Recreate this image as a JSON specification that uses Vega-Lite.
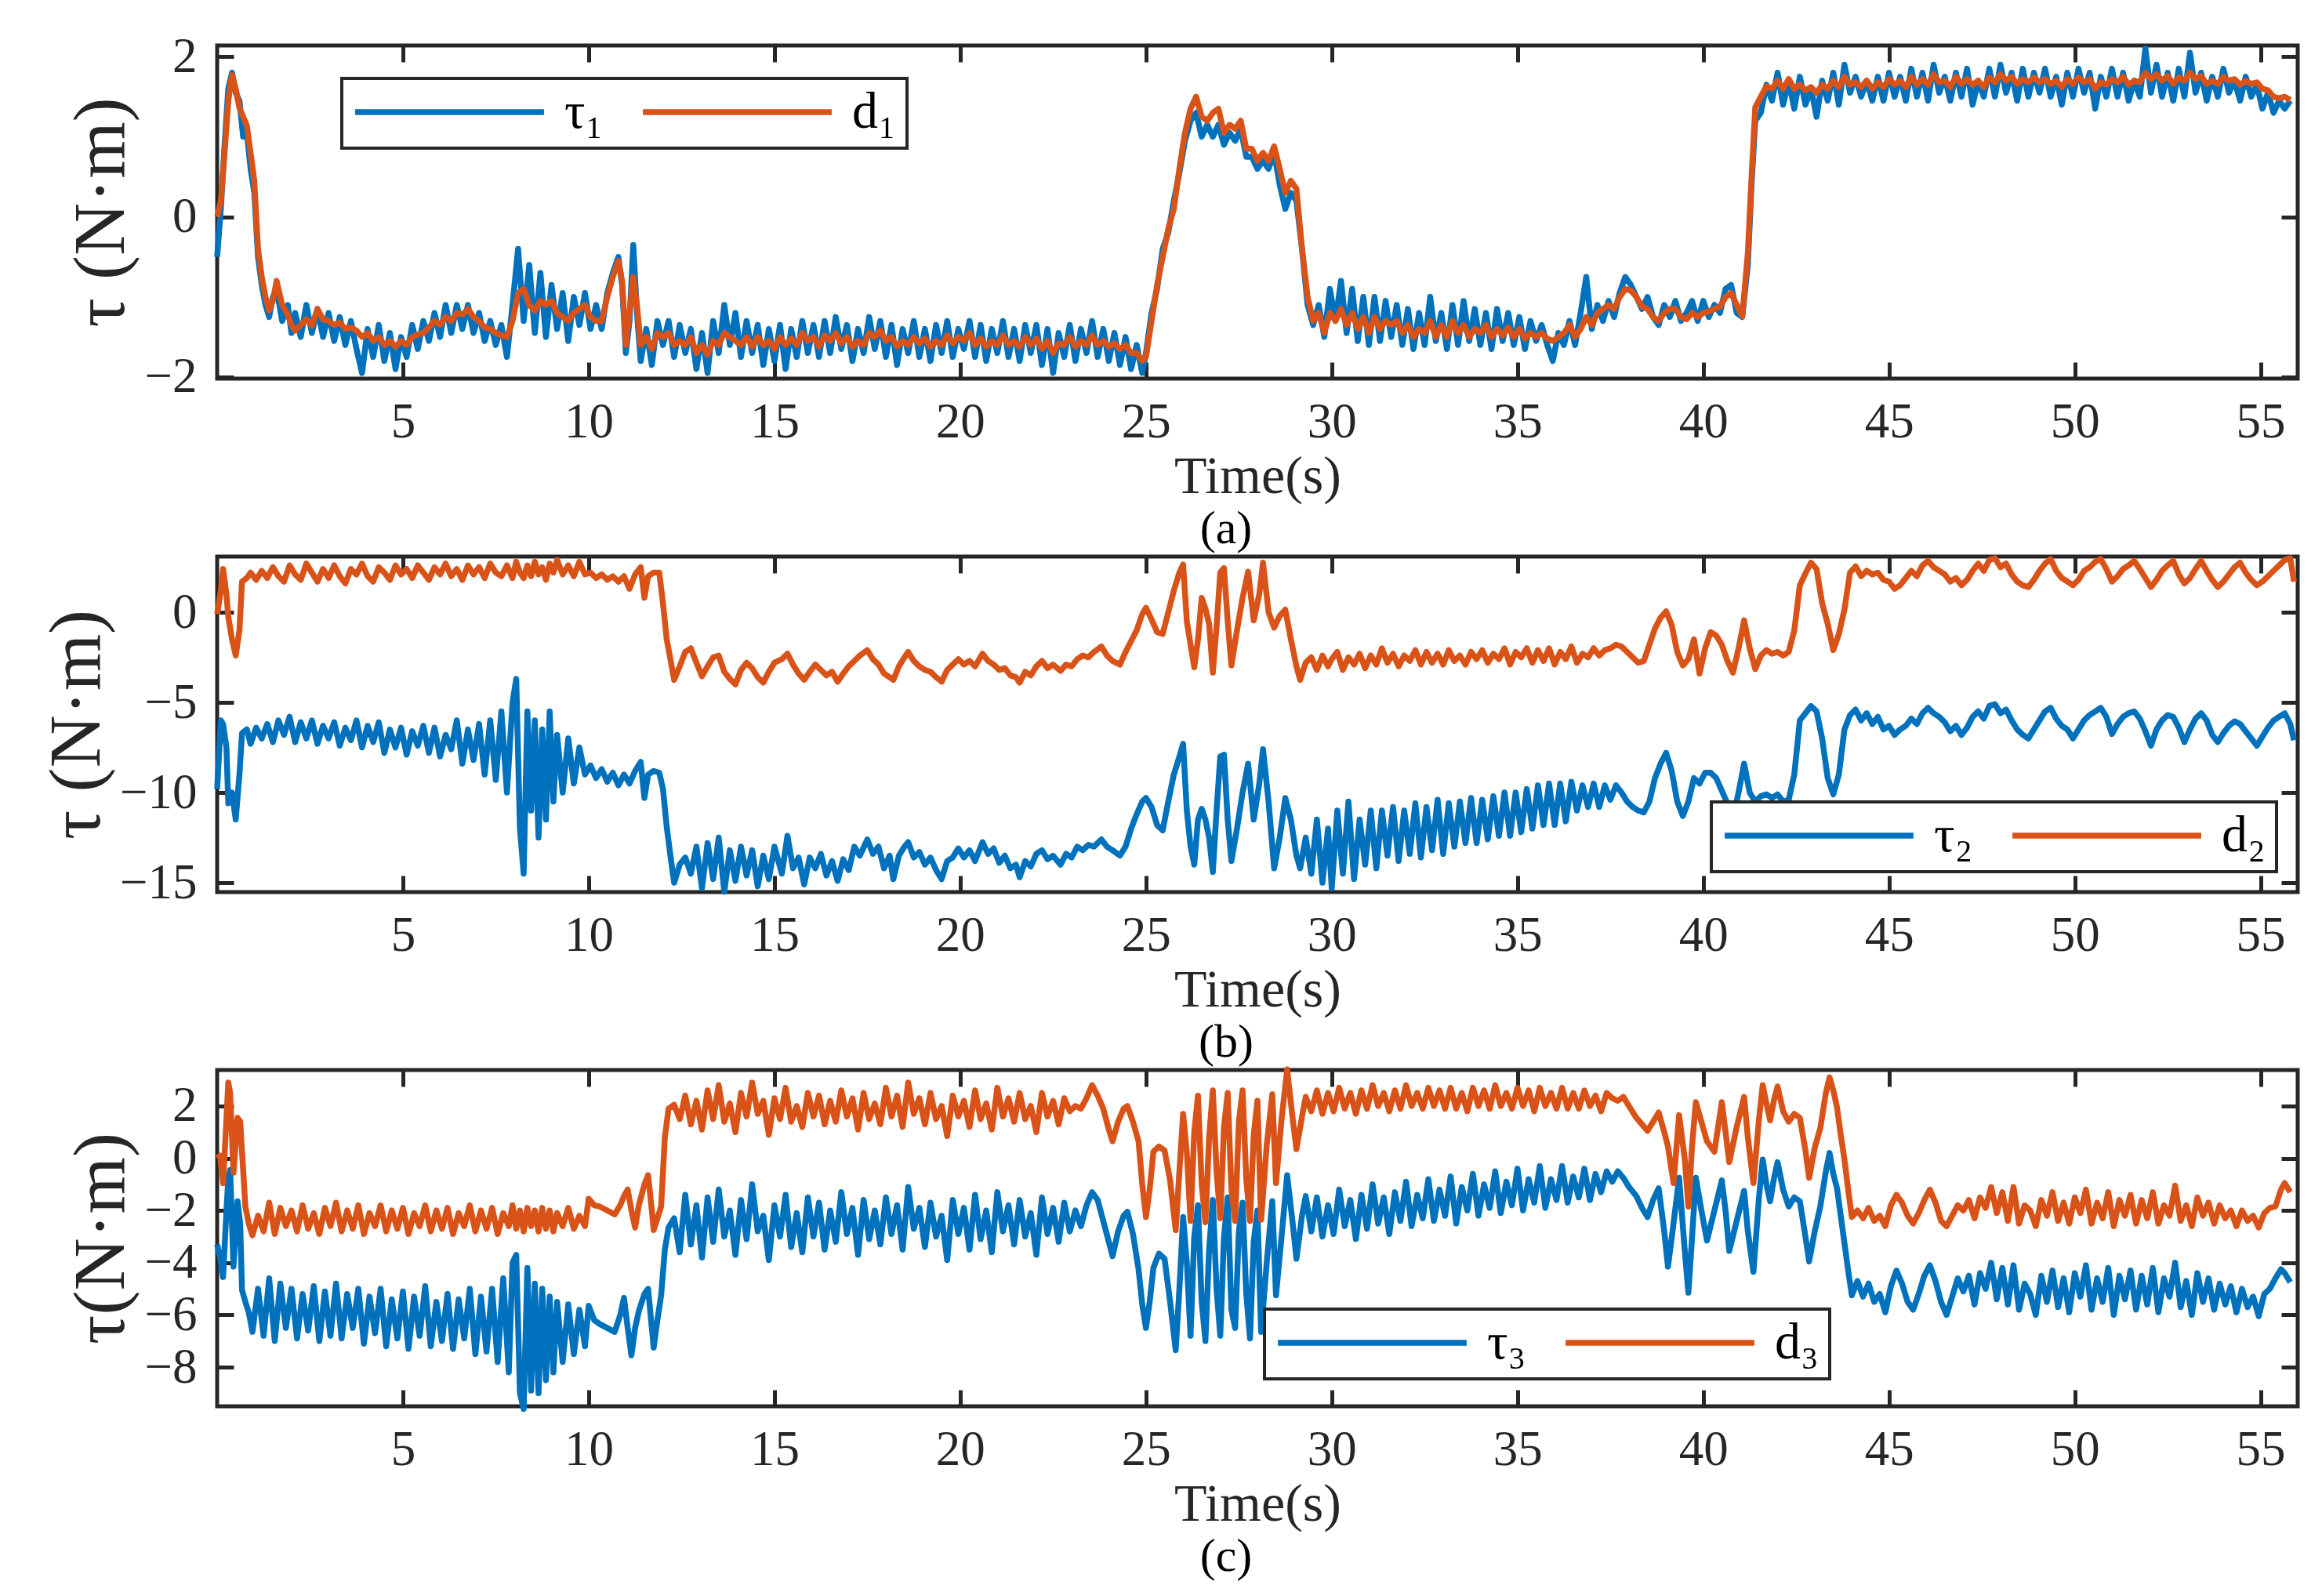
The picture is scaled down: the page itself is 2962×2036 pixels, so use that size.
{
  "$schema": "https://vega.github.io/schema/vega-lite/v6.json",
  "background": "white",
  "padding": {"left": 49, "top": 38, "right": 20, "bottom": 20},
  "bounds": "flush",
  "spacing": 227,
  "config": {
    "font": "Liberation Serif",
    "view": {"stroke": "#262626", "strokeWidth": 5},
    "axis": {
      "domain": false, "grid": false,
      "tickColor": "#262626", "tickWidth": 5, "tickSize": -21,
      "labelFont": "Liberation Serif", "labelFontSize": 63, "labelColor": "#262626",
      "labelFlush": false, "labelOverlap": false, "labelBound": false,
      "titleFont": "Liberation Serif", "titleColor": "#262626", "titleFontWeight": "normal"
    },
    "axisX": {"labelPadding": 45, "titleFontSize": 68, "titlePadding": 4},
    "axisY": {"labelPadding": 47, "titleFontSize": 93, "titlePadding": 6},
    "legend": {
      "orient": "none", "direction": "horizontal", "title": null,
      "symbolType": "stroke", "symbolSize": 58000, "symbolStrokeWidth": 7,
      "clipHeight": 60, "labelFont": "Liberation Serif, DejaVu Serif", "labelFontSize": 66,
      "labelColor": "#000000", "labelOffset": 22, "columnPadding": 46, "padding": 13,
      "strokeColor": "#262626", "strokeWidth": 4, "fillColor": "white"
    },
    "title": {"orient": "bottom", "anchor": "middle", "font": "Liberation Serif", "fontSize": 60, "fontWeight": "normal", "color": "#000000", "offset": 4, "dx": -40},
    "line": {"strokeWidth": 7.5, "strokeJoin": "round"}
  },
  "resolve": {"scale": {"color": "independent"}, "legend": {"color": "independent"}},
  "datasets": {
    "a": [
      {"t":0,"tau":-0.5,"d":0},{"t":0.1,"tau":0.1,"d":0.2},{"t":0.2,"tau":0.9,"d":0.8},{"t":0.3,"tau":1.6,"d":1.45},{"t":0.4,"tau":1.8,"d":1.77},
      {"t":0.5,"tau":1.55,"d":1.6},{"t":0.6,"tau":1.45,"d":1.36},{"t":0.7,"tau":1.0,"d":1.25},{"t":0.8,"tau":1.05,"d":1.14},{"t":0.9,"tau":0.6,"d":0.8},
      {"t":1.0,"tau":0.3,"d":0.45},{"t":1.1,"tau":-0.5,"d":-0.4},{"t":1.2,"tau":-0.85,"d":-0.75},{"t":1.3,"tau":-1.1,"d":-1.0},{"t":1.4,"tau":-1.25,"d":-1.17},
      {"t":1.5,"tau":-1.0,"d":-1.05},{"t":1.6,"tau":-0.9,"d":-0.8},{"t":1.75,"tau":-1.3,"d":-1.1},{"t":1.9,"tau":-1.1,"d":-1.22},{"t":2.0,"tau":-1.45,"d":-1.35},
      {"t":2.1,"tau":-1.2,"d":-1.42},{"t":2.25,"tau":-1.5,"d":-1.35},{"t":2.4,"tau":-1.1,"d":-1.28},{"t":2.55,"tau":-1.45,"d":-1.36},{"t":2.7,"tau":-1.15,"d":-1.15},
      {"t":2.85,"tau":-1.5,"d":-1.28},{"t":3.0,"tau":-1.2,"d":-1.3},{"t":3.15,"tau":-1.55,"d":-1.35},{"t":3.3,"tau":-1.25,"d":-1.32},{"t":3.45,"tau":-1.6,"d":-1.4},
      {"t":3.6,"tau":-1.3,"d":-1.38},{"t":3.75,"tau":-1.65,"d":-1.42},{"t":3.9,"tau":-1.95,"d":-1.5},{"t":4.05,"tau":-1.4,"d":-1.45},{"t":4.2,"tau":-1.75,"d":-1.55},
      {"t":4.35,"tau":-1.35,"d":-1.5},{"t":4.5,"tau":-1.8,"d":-1.6},{"t":4.65,"tau":-1.45,"d":-1.55},{"t":4.8,"tau":-1.9,"d":-1.62},{"t":4.95,"tau":-1.5,"d":-1.55},
      {"t":5.1,"tau":-1.75,"d":-1.6},{"t":5.25,"tau":-1.35,"d":-1.5},{"t":5.4,"tau":-1.65,"d":-1.47},{"t":5.55,"tau":-1.3,"d":-1.45},{"t":5.7,"tau":-1.55,"d":-1.38},
      {"t":5.85,"tau":-1.2,"d":-1.3},{"t":6.0,"tau":-1.5,"d":-1.35},{"t":6.15,"tau":-1.1,"d":-1.25},{"t":6.3,"tau":-1.45,"d":-1.3},{"t":6.45,"tau":-1.1,"d":-1.2},
      {"t":6.6,"tau":-1.4,"d":-1.22},{"t":6.75,"tau":-1.1,"d":-1.15},{"t":6.9,"tau":-1.45,"d":-1.25},{"t":7.05,"tau":-1.2,"d":-1.3},{"t":7.2,"tau":-1.55,"d":-1.38},
      {"t":7.35,"tau":-1.3,"d":-1.4},{"t":7.5,"tau":-1.6,"d":-1.45},{"t":7.65,"tau":-1.35,"d":-1.48},{"t":7.8,"tau":-1.75,"d":-1.5},{"t":7.95,"tau":-1.1,"d":-1.3},
      {"t":8.1,"tau":-0.4,"d":-0.95},{"t":8.25,"tau":-1.3,"d":-0.9},{"t":8.4,"tau":-0.6,"d":-1.1},{"t":8.55,"tau":-1.45,"d":-1.17},{"t":8.7,"tau":-0.7,"d":-1.05},
      {"t":8.85,"tau":-1.5,"d":-1.1},{"t":9.0,"tau":-0.85,"d":-1.05},{"t":9.15,"tau":-1.4,"d":-1.2},{"t":9.3,"tau":-0.95,"d":-1.25},{"t":9.45,"tau":-1.55,"d":-1.3},
      {"t":9.6,"tau":-1.0,"d":-1.2},{"t":9.75,"tau":-1.35,"d":-1.15},{"t":9.9,"tau":-0.95,"d":-1.1},{"t":10.05,"tau":-1.4,"d":-1.25},{"t":10.2,"tau":-1.1,"d":-1.3},
      {"t":10.35,"tau":-1.4,"d":-1.3},{"t":10.5,"tau":-0.95,"d":-1.0},{"t":10.65,"tau":-0.7,"d":-0.75},{"t":10.8,"tau":-0.5,"d":-0.55},{"t":10.9,"tau":-0.85,"d":-0.8},
      {"t":11.0,"tau":-1.7,"d":-1.6},{"t":11.1,"tau":-1.3,"d":-1.2},{"t":11.2,"tau":-0.35,"d":-0.75},{"t":11.3,"tau":-1.2,"d":-1.1},{"t":11.4,"tau":-1.8,"d":-1.6},
      {"t":11.55,"tau":-1.4,"d":-1.5},{"t":11.7,"tau":-1.85,"d":-1.65},{"t":11.85,"tau":-1.3,"d":-1.45},{"t":12.0,"tau":-1.6,"d":-1.5},{"t":12.15,"tau":-1.3,"d":-1.45},
      {"t":12.3,"tau":-1.75,"d":-1.6},{"t":12.45,"tau":-1.35,"d":-1.55},{"t":12.6,"tau":-1.7,"d":-1.6},{"t":12.75,"tau":-1.4,"d":-1.5},{"t":12.9,"tau":-1.9,"d":-1.7},
      {"t":13.05,"tau":-1.45,"d":-1.6},{"t":13.2,"tau":-1.95,"d":-1.72},{"t":13.35,"tau":-1.3,"d":-1.55},{"t":13.5,"tau":-1.7,"d":-1.6},{"t":13.65,"tau":-1.1,"d":-1.45},
      {"t":13.8,"tau":-1.6,"d":-1.5},{"t":13.95,"tau":-1.2,"d":-1.55},{"t":14.1,"tau":-1.75,"d":-1.6},{"t":14.25,"tau":-1.3,"d":-1.5},{"t":14.4,"tau":-1.7,"d":-1.62},
      {"t":14.55,"tau":-1.35,"d":-1.5},{"t":14.7,"tau":-1.85,"d":-1.6},{"t":14.85,"tau":-1.4,"d":-1.55},{"t":15.0,"tau":-1.8,"d":-1.65},{"t":15.15,"tau":-1.35,"d":-1.5},
      {"t":15.3,"tau":-1.9,"d":-1.6},{"t":15.45,"tau":-1.4,"d":-1.52},{"t":15.6,"tau":-1.75,"d":-1.6},{"t":15.75,"tau":-1.3,"d":-1.45},{"t":15.9,"tau":-1.7,"d":-1.55},
      {"t":16.05,"tau":-1.35,"d":-1.5},{"t":16.2,"tau":-1.75,"d":-1.62},{"t":16.35,"tau":-1.3,"d":-1.48},{"t":16.5,"tau":-1.7,"d":-1.55},{"t":16.65,"tau":-1.25,"d":-1.45},
      {"t":16.8,"tau":-1.65,"d":-1.58},{"t":16.95,"tau":-1.35,"d":-1.5},{"t":17.1,"tau":-1.8,"d":-1.62},{"t":17.25,"tau":-1.4,"d":-1.55},{"t":17.4,"tau":-1.7,"d":-1.6},
      {"t":17.55,"tau":-1.25,"d":-1.45},{"t":17.7,"tau":-1.65,"d":-1.5},{"t":17.85,"tau":-1.3,"d":-1.42},{"t":18.0,"tau":-1.75,"d":-1.55},{"t":18.15,"tau":-1.35,"d":-1.5},
      {"t":18.3,"tau":-1.85,"d":-1.62},{"t":18.45,"tau":-1.4,"d":-1.55},{"t":18.6,"tau":-1.7,"d":-1.6},{"t":18.75,"tau":-1.3,"d":-1.5},{"t":18.9,"tau":-1.75,"d":-1.58},
      {"t":19.05,"tau":-1.4,"d":-1.52},{"t":19.2,"tau":-1.8,"d":-1.62},{"t":19.35,"tau":-1.35,"d":-1.55},{"t":19.5,"tau":-1.7,"d":-1.6},{"t":19.65,"tau":-1.3,"d":-1.48},
      {"t":19.8,"tau":-1.75,"d":-1.58},{"t":19.95,"tau":-1.4,"d":-1.5},{"t":20.1,"tau":-1.65,"d":-1.55},{"t":20.25,"tau":-1.3,"d":-1.45},{"t":20.4,"tau":-1.75,"d":-1.6},
      {"t":20.55,"tau":-1.35,"d":-1.52},{"t":20.7,"tau":-1.8,"d":-1.62},{"t":20.85,"tau":-1.4,"d":-1.55},{"t":21.0,"tau":-1.7,"d":-1.6},{"t":21.15,"tau":-1.3,"d":-1.48},
      {"t":21.3,"tau":-1.75,"d":-1.6},{"t":21.45,"tau":-1.4,"d":-1.55},{"t":21.6,"tau":-1.8,"d":-1.62},{"t":21.75,"tau":-1.35,"d":-1.5},{"t":21.9,"tau":-1.7,"d":-1.6},
      {"t":22.05,"tau":-1.35,"d":-1.52},{"t":22.2,"tau":-1.85,"d":-1.65},{"t":22.35,"tau":-1.4,"d":-1.55},{"t":22.5,"tau":-1.95,"d":-1.7},{"t":22.65,"tau":-1.45,"d":-1.58},
      {"t":22.8,"tau":-1.75,"d":-1.6},{"t":22.95,"tau":-1.35,"d":-1.5},{"t":23.1,"tau":-1.8,"d":-1.62},{"t":23.25,"tau":-1.4,"d":-1.55},{"t":23.4,"tau":-1.7,"d":-1.6},
      {"t":23.55,"tau":-1.3,"d":-1.48},{"t":23.7,"tau":-1.75,"d":-1.6},{"t":23.85,"tau":-1.4,"d":-1.55},{"t":24.0,"tau":-1.8,"d":-1.62},{"t":24.15,"tau":-1.45,"d":-1.58},
      {"t":24.3,"tau":-1.85,"d":-1.65},{"t":24.45,"tau":-1.5,"d":-1.6},{"t":24.6,"tau":-1.9,"d":-1.7},{"t":24.75,"tau":-1.6,"d":-1.7},{"t":24.9,"tau":-1.95,"d":-1.8},
      {"t":25.0,"tau":-1.7,"d":-1.75},{"t":25.15,"tau":-1.2,"d":-1.3},{"t":25.3,"tau":-0.9,"d":-0.85},{"t":25.45,"tau":-0.4,"d":-0.5},{"t":25.6,"tau":-0.2,"d":-0.15},
      {"t":25.75,"tau":0.2,"d":0.1},{"t":25.9,"tau":0.55,"d":0.6},{"t":26.05,"tau":0.95,"d":1.05},{"t":26.2,"tau":1.2,"d":1.35},{"t":26.35,"tau":1.3,"d":1.5},
      {"t":26.5,"tau":1.0,"d":1.25},{"t":26.65,"tau":1.15,"d":1.2},{"t":26.8,"tau":1.0,"d":1.3},{"t":26.95,"tau":1.15,"d":1.35},{"t":27.1,"tau":0.9,"d":1.05},
      {"t":27.25,"tau":1.05,"d":1.15},{"t":27.4,"tau":0.95,"d":1.1},{"t":27.55,"tau":1.1,"d":1.2},{"t":27.7,"tau":0.75,"d":0.85},{"t":27.85,"tau":0.75,"d":0.85},
      {"t":28.0,"tau":0.6,"d":0.7},{"t":28.15,"tau":0.7,"d":0.8},{"t":28.3,"tau":0.6,"d":0.7},{"t":28.45,"tau":0.8,"d":0.88},{"t":28.6,"tau":0.4,"d":0.6},
      {"t":28.75,"tau":0.1,"d":0.3},{"t":28.9,"tau":0.3,"d":0.45},{"t":29.05,"tau":0.2,"d":0.35},{"t":29.2,"tau":-0.4,"d":-0.4},{"t":29.35,"tau":-1.1,"d":-1.0},
      {"t":29.5,"tau":-1.35,"d":-1.3},{"t":29.65,"tau":-1.1,"d":-1.2},{"t":29.8,"tau":-1.5,"d":-1.45},{"t":29.95,"tau":-0.9,"d":-1.2},{"t":30.1,"tau":-1.3,"d":-1.3},
      {"t":30.25,"tau":-0.8,"d":-1.15},{"t":30.4,"tau":-1.45,"d":-1.35},{"t":30.55,"tau":-0.9,"d":-1.2},{"t":30.7,"tau":-1.55,"d":-1.4},{"t":30.85,"tau":-1.0,"d":-1.25},
      {"t":31.0,"tau":-1.6,"d":-1.45},{"t":31.15,"tau":-1.0,"d":-1.25},{"t":31.3,"tau":-1.55,"d":-1.4},{"t":31.45,"tau":-1.05,"d":-1.3},{"t":31.6,"tau":-1.5,"d":-1.35},
      {"t":31.75,"tau":-1.1,"d":-1.3},{"t":31.9,"tau":-1.6,"d":-1.45},{"t":32.05,"tau":-1.15,"d":-1.35},{"t":32.2,"tau":-1.65,"d":-1.5},{"t":32.35,"tau":-1.2,"d":-1.4},
      {"t":32.5,"tau":-1.6,"d":-1.45},{"t":32.65,"tau":-1.0,"d":-1.3},{"t":32.8,"tau":-1.55,"d":-1.5},{"t":32.95,"tau":-1.2,"d":-1.35},{"t":33.1,"tau":-1.65,"d":-1.5},
      {"t":33.25,"tau":-1.1,"d":-1.3},{"t":33.4,"tau":-1.6,"d":-1.45},{"t":33.55,"tau":-1.05,"d":-1.35},{"t":33.7,"tau":-1.55,"d":-1.5},{"t":33.85,"tau":-1.15,"d":-1.4},
      {"t":34.0,"tau":-1.6,"d":-1.45},{"t":34.15,"tau":-1.2,"d":-1.35},{"t":34.3,"tau":-1.65,"d":-1.5},{"t":34.45,"tau":-1.15,"d":-1.4},{"t":34.6,"tau":-1.55,"d":-1.48},
      {"t":34.75,"tau":-1.2,"d":-1.38},{"t":34.9,"tau":-1.6,"d":-1.5},{"t":35.05,"tau":-1.25,"d":-1.4},{"t":35.2,"tau":-1.65,"d":-1.52},{"t":35.35,"tau":-1.3,"d":-1.45},
      {"t":35.5,"tau":-1.55,"d":-1.5},{"t":35.65,"tau":-1.35,"d":-1.45},{"t":35.8,"tau":-1.6,"d":-1.52},{"t":35.95,"tau":-1.8,"d":-1.55},{"t":36.1,"tau":-1.45,"d":-1.5},
      {"t":36.25,"tau":-1.6,"d":-1.45},{"t":36.4,"tau":-1.3,"d":-1.35},{"t":36.55,"tau":-1.6,"d":-1.5},{"t":36.7,"tau":-1.2,"d":-1.4},{"t":36.85,"tau":-0.75,"d":-1.25},
      {"t":37.0,"tau":-1.4,"d":-1.35},{"t":37.15,"tau":-1.1,"d":-1.2},{"t":37.3,"tau":-1.3,"d":-1.15},{"t":37.45,"tau":-1.05,"d":-1.1},{"t":37.6,"tau":-1.25,"d":-1.15},
      {"t":37.75,"tau":-0.95,"d":-1.0},{"t":37.9,"tau":-0.75,"d":-0.9},{"t":38.05,"tau":-0.85,"d":-0.92},{"t":38.2,"tau":-1.0,"d":-1.0},{"t":38.35,"tau":-1.15,"d":-1.12},
      {"t":38.5,"tau":-1.0,"d":-1.15},{"t":38.65,"tau":-1.25,"d":-1.25},{"t":38.8,"tau":-1.35,"d":-1.3},{"t":38.95,"tau":-1.1,"d":-1.2},{"t":39.1,"tau":-1.25,"d":-1.15},
      {"t":39.25,"tau":-1.05,"d":-1.15},{"t":39.4,"tau":-1.3,"d":-1.25},{"t":39.55,"tau":-1.2,"d":-1.28},{"t":39.7,"tau":-1.05,"d":-1.2},{"t":39.85,"tau":-1.3,"d":-1.25},
      {"t":40.0,"tau":-1.05,"d":-1.2},{"t":40.15,"tau":-1.25,"d":-1.18},{"t":40.3,"tau":-1.1,"d":-1.15},{"t":40.45,"tau":-1.2,"d":-1.12},{"t":40.6,"tau":-0.9,"d":-1.0},
      {"t":40.75,"tau":-0.85,"d":-0.95},{"t":40.9,"tau":-1.2,"d":-1.1},{"t":41.05,"tau":-1.25,"d":-1.24},{"t":41.2,"tau":-0.6,"d":-0.45},{"t":41.3,"tau":0.4,"d":0.5},
      {"t":41.4,"tau":1.2,"d":1.37},{"t":41.55,"tau":1.3,"d":1.5},{"t":41.7,"tau":1.65,"d":1.63},{"t":41.85,"tau":1.45,"d":1.6},{"t":42.0,"tau":1.8,"d":1.7},
      {"t":42.15,"tau":1.4,"d":1.6},{"t":42.3,"tau":1.7,"d":1.72},{"t":42.45,"tau":1.35,"d":1.6},{"t":42.6,"tau":1.75,"d":1.65},{"t":42.75,"tau":1.4,"d":1.58},
      {"t":42.9,"tau":1.6,"d":1.62},{"t":43.05,"tau":1.25,"d":1.55},{"t":43.2,"tau":1.7,"d":1.65},{"t":43.35,"tau":1.45,"d":1.6},{"t":43.5,"tau":1.8,"d":1.7},
      {"t":43.65,"tau":1.4,"d":1.62},{"t":43.8,"tau":1.9,"d":1.75},{"t":43.95,"tau":1.55,"d":1.65},{"t":44.1,"tau":1.75,"d":1.68},{"t":44.25,"tau":1.5,"d":1.62},
      {"t":44.4,"tau":1.7,"d":1.7},{"t":44.55,"tau":1.45,"d":1.6},{"t":44.7,"tau":1.75,"d":1.68},{"t":44.85,"tau":1.45,"d":1.62},{"t":45.0,"tau":1.8,"d":1.72},
      {"t":45.15,"tau":1.5,"d":1.65},{"t":45.3,"tau":1.75,"d":1.7},{"t":45.45,"tau":1.45,"d":1.62},{"t":45.6,"tau":1.85,"d":1.75},{"t":45.75,"tau":1.5,"d":1.65},
      {"t":45.9,"tau":1.8,"d":1.72},{"t":46.05,"tau":1.45,"d":1.65},{"t":46.2,"tau":1.9,"d":1.78},{"t":46.35,"tau":1.55,"d":1.68},{"t":46.5,"tau":1.75,"d":1.7},
      {"t":46.65,"tau":1.45,"d":1.62},{"t":46.8,"tau":1.8,"d":1.75},{"t":46.95,"tau":1.5,"d":1.66},{"t":47.1,"tau":1.85,"d":1.72},{"t":47.25,"tau":1.4,"d":1.65},
      {"t":47.4,"tau":1.7,"d":1.7},{"t":47.55,"tau":1.5,"d":1.62},{"t":47.7,"tau":1.85,"d":1.74},{"t":47.85,"tau":1.5,"d":1.68},{"t":48.0,"tau":1.9,"d":1.78},
      {"t":48.15,"tau":1.55,"d":1.7},{"t":48.3,"tau":1.8,"d":1.75},{"t":48.45,"tau":1.45,"d":1.66},{"t":48.6,"tau":1.85,"d":1.72},{"t":48.75,"tau":1.5,"d":1.68},
      {"t":48.9,"tau":1.8,"d":1.74},{"t":49.05,"tau":1.55,"d":1.68},{"t":49.2,"tau":1.85,"d":1.72},{"t":49.35,"tau":1.5,"d":1.66},{"t":49.5,"tau":1.75,"d":1.7},
      {"t":49.65,"tau":1.4,"d":1.62},{"t":49.8,"tau":1.8,"d":1.72},{"t":49.95,"tau":1.5,"d":1.66},{"t":50.1,"tau":1.85,"d":1.74},{"t":50.25,"tau":1.55,"d":1.68},
      {"t":50.4,"tau":1.8,"d":1.72},{"t":50.55,"tau":1.35,"d":1.6},{"t":50.7,"tau":1.75,"d":1.68},{"t":50.85,"tau":1.5,"d":1.65},{"t":51.0,"tau":1.85,"d":1.72},
      {"t":51.15,"tau":1.5,"d":1.68},{"t":51.3,"tau":1.8,"d":1.75},{"t":51.45,"tau":1.45,"d":1.65},{"t":51.6,"tau":1.7,"d":1.7},{"t":51.75,"tau":1.5,"d":1.68},
      {"t":51.9,"tau":2.1,"d":1.8},{"t":52.05,"tau":1.55,"d":1.72},{"t":52.2,"tau":1.9,"d":1.78},{"t":52.35,"tau":1.5,"d":1.7},{"t":52.5,"tau":1.8,"d":1.76},
      {"t":52.65,"tau":1.45,"d":1.66},{"t":52.8,"tau":1.85,"d":1.74},{"t":52.95,"tau":1.5,"d":1.7},{"t":53.1,"tau":2.05,"d":1.8},{"t":53.25,"tau":1.55,"d":1.72},
      {"t":53.4,"tau":1.8,"d":1.76},{"t":53.55,"tau":1.45,"d":1.66},{"t":53.7,"tau":1.75,"d":1.7},{"t":53.85,"tau":1.5,"d":1.66},{"t":54.0,"tau":1.85,"d":1.75},
      {"t":54.15,"tau":1.55,"d":1.7},{"t":54.3,"tau":1.7,"d":1.72},{"t":54.45,"tau":1.45,"d":1.65},{"t":54.6,"tau":1.75,"d":1.7},{"t":54.75,"tau":1.5,"d":1.66},
      {"t":54.9,"tau":1.65,"d":1.68},{"t":55.05,"tau":1.35,"d":1.6},{"t":55.2,"tau":1.55,"d":1.58},{"t":55.35,"tau":1.3,"d":1.5},{"t":55.5,"tau":1.45,"d":1.48},
      {"t":55.65,"tau":1.35,"d":1.5},{"t":55.8,"tau":1.45,"d":1.46}
    ],
    "b": [
      {"t":0,"tau":-9.8,"d":-0.1},{"t":0.1,"tau":-6.0,"d":1.2},{"t":0.16,"tau":-6.2,"d":2.4},{"t":0.25,"tau":-7.5,"d":1.0},{"t":0.3,"tau":-10.6,"d":-0.25},
      {"t":0.4,"tau":-10.0,"d":-1.5},{"t":0.5,"tau":-11.5,"d":-2.4},{"t":0.6,"tau":-9.0,"d":-1.0},{"t":0.67,"tau":-6.7,"d":1.7},{"t":0.8,"tau":-6.5,"d":1.9},
      {"t":0.9,"tau":-7.3,"d":2.2},{"t":1.05,"tau":-6.4,"d":1.8},{"t":1.2,"tau":-7.0,"d":2.3},{"t":1.35,"tau":-6.2,"d":1.9},{"t":1.5,"tau":-7.2,"d":2.5},
      {"t":1.65,"tau":-6.0,"d":2.0},{"t":1.8,"tau":-6.8,"d":1.7},{"t":1.95,"tau":-5.8,"d":2.6},{"t":2.1,"tau":-7.2,"d":2.1},{"t":2.25,"tau":-6.1,"d":1.8},
      {"t":2.4,"tau":-7.0,"d":2.7},{"t":2.55,"tau":-6.0,"d":2.2},{"t":2.7,"tau":-7.3,"d":1.7},{"t":2.85,"tau":-6.3,"d":2.4},{"t":3.0,"tau":-7.0,"d":1.9},
      {"t":3.15,"tau":-6.1,"d":2.6},{"t":3.3,"tau":-7.4,"d":2.0},{"t":3.45,"tau":-6.4,"d":1.6},{"t":3.6,"tau":-7.1,"d":2.4},{"t":3.75,"tau":-6.0,"d":2.1},
      {"t":3.9,"tau":-7.5,"d":2.7},{"t":4.05,"tau":-6.3,"d":2.0},{"t":4.2,"tau":-7.2,"d":1.7},{"t":4.35,"tau":-6.1,"d":2.5},{"t":4.5,"tau":-7.8,"d":2.2},
      {"t":4.65,"tau":-6.5,"d":1.8},{"t":4.8,"tau":-7.5,"d":2.6},{"t":4.95,"tau":-6.4,"d":2.1},{"t":5.1,"tau":-7.9,"d":2.4},{"t":5.25,"tau":-6.6,"d":1.9},
      {"t":5.4,"tau":-7.4,"d":2.6},{"t":5.55,"tau":-6.3,"d":2.2},{"t":5.7,"tau":-7.8,"d":1.8},{"t":5.85,"tau":-6.4,"d":2.5},{"t":6.0,"tau":-8.0,"d":2.1},
      {"t":6.15,"tau":-6.8,"d":2.7},{"t":6.3,"tau":-7.6,"d":2.0},{"t":6.45,"tau":-6.0,"d":2.4},{"t":6.6,"tau":-8.4,"d":1.8},{"t":6.75,"tau":-6.5,"d":2.6},
      {"t":6.9,"tau":-8.2,"d":2.1},{"t":7.05,"tau":-6.2,"d":2.5},{"t":7.2,"tau":-9.0,"d":1.9},{"t":7.35,"tau":-6.0,"d":2.7},{"t":7.5,"tau":-9.3,"d":2.2},
      {"t":7.65,"tau":-5.5,"d":2.0},{"t":7.8,"tau":-10.0,"d":2.6},{"t":7.95,"tau":-5.0,"d":1.9},{"t":8.05,"tau":-3.7,"d":2.8},{"t":8.15,"tau":-12.0,"d":2.2},
      {"t":8.25,"tau":-14.5,"d":1.9},{"t":8.35,"tau":-5.5,"d":2.6},{"t":8.45,"tau":-11.0,"d":2.0},{"t":8.55,"tau":-6.0,"d":2.8},{"t":8.65,"tau":-12.5,"d":2.1},
      {"t":8.75,"tau":-6.5,"d":2.5},{"t":8.85,"tau":-11.5,"d":1.8},{"t":8.95,"tau":-5.5,"d":2.7},{"t":9.05,"tau":-10.5,"d":2.2},{"t":9.15,"tau":-6.8,"d":2.9},
      {"t":9.3,"tau":-10.0,"d":2.1},{"t":9.45,"tau":-7.0,"d":2.6},{"t":9.6,"tau":-9.5,"d":2.0},{"t":9.75,"tau":-7.5,"d":2.8},{"t":9.9,"tau":-9.0,"d":2.1},
      {"t":10.05,"tau":-8.5,"d":2.2},{"t":10.2,"tau":-9.2,"d":1.9},{"t":10.35,"tau":-8.7,"d":2.1},{"t":10.5,"tau":-9.4,"d":1.8},{"t":10.65,"tau":-8.9,"d":2.0},
      {"t":10.8,"tau":-9.6,"d":1.7},{"t":10.95,"tau":-9.0,"d":2.0},{"t":11.1,"tau":-9.5,"d":1.3},{"t":11.25,"tau":-8.8,"d":2.1},{"t":11.4,"tau":-8.3,"d":2.5},
      {"t":11.5,"tau":-10.3,"d":0.8},{"t":11.6,"tau":-9.0,"d":2.0},{"t":11.75,"tau":-8.8,"d":2.2},{"t":11.9,"tau":-8.9,"d":2.2},{"t":12.0,"tau":-9.8,"d":0.5},
      {"t":12.1,"tau":-11.9,"d":-1.5},{"t":12.2,"tau":-13.5,"d":-2.6},{"t":12.3,"tau":-15.0,"d":-3.75},{"t":12.45,"tau":-14.0,"d":-3.0},{"t":12.6,"tau":-13.6,"d":-2.2},
      {"t":12.75,"tau":-14.5,"d":-2.0},{"t":12.9,"tau":-13.0,"d":-2.8},{"t":13.05,"tau":-15.3,"d":-3.55},{"t":13.2,"tau":-12.8,"d":-3.0},{"t":13.35,"tau":-14.8,"d":-2.5},
      {"t":13.5,"tau":-12.5,"d":-2.4},{"t":13.65,"tau":-15.5,"d":-3.3},{"t":13.8,"tau":-13.2,"d":-3.7},{"t":13.95,"tau":-14.9,"d":-4.0},{"t":14.1,"tau":-13.0,"d":-3.2},
      {"t":14.25,"tau":-14.6,"d":-2.8},{"t":14.4,"tau":-13.2,"d":-3.1},{"t":14.55,"tau":-15.2,"d":-3.6},{"t":14.7,"tau":-13.5,"d":-3.9},{"t":14.85,"tau":-14.8,"d":-3.3},
      {"t":15.0,"tau":-13.0,"d":-2.8},{"t":15.2,"tau":-14.5,"d":-2.6},{"t":15.35,"tau":-12.4,"d":-2.3},{"t":15.5,"tau":-14.2,"d":-2.9},{"t":15.65,"tau":-13.6,"d":-3.4},
      {"t":15.8,"tau":-15.1,"d":-3.75},{"t":15.95,"tau":-13.6,"d":-3.3},{"t":16.1,"tau":-14.2,"d":-2.9},{"t":16.25,"tau":-13.4,"d":-3.2},{"t":16.4,"tau":-14.6,"d":-3.5},
      {"t":16.55,"tau":-13.8,"d":-3.3},{"t":16.7,"tau":-14.9,"d":-3.85},{"t":16.85,"tau":-13.7,"d":-3.4},{"t":17.0,"tau":-14.3,"d":-3.0},{"t":17.15,"tau":-13.0,"d":-2.7},
      {"t":17.3,"tau":-13.5,"d":-2.4},{"t":17.5,"tau":-12.6,"d":-2.1},{"t":17.65,"tau":-13.4,"d":-2.6},{"t":17.8,"tau":-13.0,"d":-2.9},{"t":17.95,"tau":-14.2,"d":-3.4},
      {"t":18.1,"tau":-13.5,"d":-3.6},{"t":18.2,"tau":-14.8,"d":-3.75},{"t":18.35,"tau":-13.5,"d":-3.0},{"t":18.5,"tau":-13.0,"d":-2.5},{"t":18.6,"tau":-12.75,"d":-2.2},
      {"t":18.75,"tau":-13.6,"d":-2.7},{"t":18.9,"tau":-13.3,"d":-3.0},{"t":19.05,"tau":-14.0,"d":-3.2},{"t":19.2,"tau":-13.6,"d":-3.3},{"t":19.35,"tau":-14.3,"d":-3.6},
      {"t":19.5,"tau":-14.8,"d":-3.85},{"t":19.65,"tau":-13.8,"d":-3.2},{"t":19.8,"tau":-13.6,"d":-2.9},{"t":19.95,"tau":-13.1,"d":-2.6},{"t":20.1,"tau":-13.6,"d":-2.9},
      {"t":20.25,"tau":-13.2,"d":-2.7},{"t":20.4,"tau":-13.8,"d":-3.0},{"t":20.6,"tau":-12.75,"d":-2.3},{"t":20.75,"tau":-13.4,"d":-2.7},{"t":20.9,"tau":-13.1,"d":-2.9},
      {"t":21.05,"tau":-13.9,"d":-3.2},{"t":21.2,"tau":-13.5,"d":-3.1},{"t":21.35,"tau":-14.2,"d":-3.5},{"t":21.5,"tau":-14.0,"d":-3.6},{"t":21.6,"tau":-14.7,"d":-3.9},
      {"t":21.75,"tau":-13.8,"d":-3.3},{"t":21.9,"tau":-14.1,"d":-3.5},{"t":22.05,"tau":-13.4,"d":-3.0},{"t":22.2,"tau":-13.2,"d":-2.7},{"t":22.35,"tau":-13.7,"d":-3.1},
      {"t":22.5,"tau":-13.5,"d":-2.9},{"t":22.7,"tau":-14.0,"d":-3.25},{"t":22.85,"tau":-13.4,"d":-2.9},{"t":23.0,"tau":-13.6,"d":-3.0},{"t":23.15,"tau":-13.0,"d":-2.6},
      {"t":23.3,"tau":-13.2,"d":-2.4},{"t":23.45,"tau":-12.9,"d":-2.5},{"t":23.6,"tau":-13.0,"d":-2.2},{"t":23.8,"tau":-12.6,"d":-1.9},{"t":23.95,"tau":-13.0,"d":-2.4},
      {"t":24.1,"tau":-13.2,"d":-2.7},{"t":24.3,"tau":-13.5,"d":-2.9},{"t":24.45,"tau":-13.0,"d":-2.2},{"t":24.6,"tau":-12.0,"d":-1.6},{"t":24.75,"tau":-11.2,"d":-1.0},
      {"t":24.9,"tau":-10.5,"d":-0.1},{"t":25.0,"tau":-10.3,"d":0.25},{"t":25.15,"tau":-10.8,"d":-0.4},{"t":25.3,"tau":-11.8,"d":-1.1},{"t":25.45,"tau":-12.1,"d":-1.2},
      {"t":25.6,"tau":-10.5,"d":0.0},{"t":25.75,"tau":-9.0,"d":1.2},{"t":25.9,"tau":-8.0,"d":2.2},{"t":26.0,"tau":-7.3,"d":2.65},{"t":26.1,"tau":-11.0,"d":-0.5},
      {"t":26.2,"tau":-13.0,"d":-1.8},{"t":26.3,"tau":-14.0,"d":-3.05},{"t":26.4,"tau":-11.5,"d":-1.5},{"t":26.5,"tau":-10.9,"d":0.8},{"t":26.6,"tau":-11.5,"d":0.2},
      {"t":26.7,"tau":-12.5,"d":-0.65},{"t":26.8,"tau":-14.4,"d":-3.35},{"t":26.9,"tau":-11.0,"d":-0.8},{"t":27.0,"tau":-8.0,"d":2.2},{"t":27.1,"tau":-7.9,"d":2.45},
      {"t":27.2,"tau":-11.5,"d":-0.5},{"t":27.3,"tau":-13.8,"d":-2.95},{"t":27.45,"tau":-12.0,"d":-1.0},{"t":27.6,"tau":-10.0,"d":0.8},{"t":27.75,"tau":-8.4,"d":2.25},
      {"t":27.9,"tau":-11.5,"d":-0.45},{"t":28.05,"tau":-9.5,"d":1.0},{"t":28.15,"tau":-7.6,"d":2.75},{"t":28.3,"tau":-10.5,"d":0.0},{"t":28.45,"tau":-14.2,"d":-0.85},
      {"t":28.6,"tau":-12.5,"d":-0.2},{"t":28.75,"tau":-10.3,"d":0.15},{"t":28.9,"tau":-11.5,"d":-1.5},{"t":29.05,"tau":-13.5,"d":-3.0},{"t":29.15,"tau":-14.2,"d":-3.75},
      {"t":29.3,"tau":-12.5,"d":-2.8},{"t":29.45,"tau":-14.5,"d":-2.5},{"t":29.6,"tau":-11.5,"d":-3.2},{"t":29.75,"tau":-15.0,"d":-2.4},{"t":29.9,"tau":-12.0,"d":-3.0},
      {"t":30.0,"tau":-15.3,"d":-2.6},{"t":30.15,"tau":-11.0,"d":-2.2},{"t":30.3,"tau":-14.5,"d":-3.2},{"t":30.45,"tau":-10.5,"d":-2.5},{"t":30.6,"tau":-14.8,"d":-2.9},
      {"t":30.75,"tau":-11.5,"d":-2.3},{"t":30.9,"tau":-14.0,"d":-3.1},{"t":31.05,"tau":-11.0,"d":-2.4},{"t":31.2,"tau":-14.2,"d":-2.9},{"t":31.35,"tau":-11.0,"d":-2.0},
      {"t":31.5,"tau":-13.5,"d":-2.8},{"t":31.65,"tau":-10.8,"d":-2.3},{"t":31.8,"tau":-13.8,"d":-3.0},{"t":31.95,"tau":-11.0,"d":-2.4},{"t":32.1,"tau":-13.4,"d":-2.7},
      {"t":32.25,"tau":-10.6,"d":-2.1},{"t":32.4,"tau":-13.6,"d":-2.9},{"t":32.55,"tau":-10.8,"d":-2.2},{"t":32.7,"tau":-13.2,"d":-2.8},{"t":32.85,"tau":-10.4,"d":-2.3},
      {"t":33.0,"tau":-13.4,"d":-2.9},{"t":33.15,"tau":-10.6,"d":-2.1},{"t":33.3,"tau":-13.0,"d":-2.7},{"t":33.45,"tau":-10.5,"d":-2.4},{"t":33.6,"tau":-12.8,"d":-2.9},
      {"t":33.75,"tau":-10.3,"d":-2.2},{"t":33.9,"tau":-12.8,"d":-2.6},{"t":34.05,"tau":-10.4,"d":-2.1},{"t":34.2,"tau":-12.6,"d":-2.8},{"t":34.35,"tau":-10.2,"d":-2.3},
      {"t":34.5,"tau":-12.4,"d":-2.6},{"t":34.65,"tau":-10.0,"d":-2.0},{"t":34.8,"tau":-12.4,"d":-2.9},{"t":34.95,"tau":-10.0,"d":-2.2},{"t":35.1,"tau":-12.2,"d":-2.5},
      {"t":35.25,"tau":-9.8,"d":-2.0},{"t":35.4,"tau":-12.0,"d":-2.8},{"t":35.55,"tau":-9.6,"d":-2.1},{"t":35.7,"tau":-11.8,"d":-2.7},{"t":35.85,"tau":-9.5,"d":-2.0},
      {"t":36.0,"tau":-11.8,"d":-2.9},{"t":36.15,"tau":-9.5,"d":-2.2},{"t":36.3,"tau":-11.6,"d":-2.6},{"t":36.45,"tau":-9.4,"d":-1.9},{"t":36.6,"tau":-11.0,"d":-2.8},
      {"t":36.75,"tau":-9.6,"d":-2.3},{"t":36.9,"tau":-10.8,"d":-2.5},{"t":37.05,"tau":-9.5,"d":-2.0},{"t":37.2,"tau":-10.8,"d":-2.4},{"t":37.35,"tau":-9.6,"d":-2.1},
      {"t":37.5,"tau":-10.4,"d":-2.0},{"t":37.65,"tau":-9.6,"d":-1.8},{"t":37.8,"tau":-10.0,"d":-1.9},{"t":37.95,"tau":-10.5,"d":-2.2},{"t":38.1,"tau":-10.8,"d":-2.5},
      {"t":38.25,"tau":-11.0,"d":-2.8},{"t":38.4,"tau":-11.1,"d":-2.7},{"t":38.55,"tau":-10.5,"d":-1.8},{"t":38.7,"tau":-9.2,"d":-0.9},{"t":38.85,"tau":-8.4,"d":-0.3},
      {"t":39.0,"tau":-7.8,"d":0.05},{"t":39.15,"tau":-8.8,"d":-0.7},{"t":39.3,"tau":-10.5,"d":-2.2},{"t":39.45,"tau":-11.3,"d":-2.95},{"t":39.6,"tau":-10.5,"d":-2.6},
      {"t":39.75,"tau":-9.2,"d":-1.5},{"t":39.9,"tau":-9.5,"d":-3.4},{"t":40.05,"tau":-8.9,"d":-2.0},{"t":40.2,"tau":-8.9,"d":-1.1},{"t":40.35,"tau":-9.2,"d":-1.3},
      {"t":40.5,"tau":-9.9,"d":-1.8},{"t":40.65,"tau":-10.6,"d":-2.7},{"t":40.8,"tau":-11.4,"d":-3.35},{"t":40.95,"tau":-10.0,"d":-2.0},{"t":41.1,"tau":-8.4,"d":-0.45},
      {"t":41.25,"tau":-10.0,"d":-2.0},{"t":41.4,"tau":-10.5,"d":-3.15},{"t":41.55,"tau":-10.2,"d":-2.4},{"t":41.7,"tau":-10.1,"d":-2.1},{"t":41.85,"tau":-10.3,"d":-2.3},
      {"t":42.0,"tau":-10.1,"d":-2.2},{"t":42.15,"tau":-10.5,"d":-2.4},{"t":42.3,"tau":-10.4,"d":-2.2},{"t":42.45,"tau":-9.0,"d":-1.0},{"t":42.6,"tau":-6.0,"d":1.5},
      {"t":42.75,"tau":-5.6,"d":2.15},{"t":42.9,"tau":-5.2,"d":2.75},{"t":43.05,"tau":-5.5,"d":2.4},{"t":43.2,"tau":-7.0,"d":0.5},{"t":43.35,"tau":-9.2,"d":-0.65},
      {"t":43.5,"tau":-10.1,"d":-2.1},{"t":43.65,"tau":-9.0,"d":-1.2},{"t":43.8,"tau":-6.5,"d":0.15},{"t":43.95,"tau":-5.7,"d":2.2},{"t":44.1,"tau":-5.4,"d":2.55},
      {"t":44.25,"tau":-6.0,"d":2.0},{"t":44.4,"tau":-5.6,"d":2.3},{"t":44.55,"tau":-6.2,"d":2.1},{"t":44.7,"tau":-5.8,"d":2.2},{"t":44.85,"tau":-6.5,"d":1.8},
      {"t":45.0,"tau":-6.3,"d":1.7},{"t":45.15,"tau":-6.8,"d":1.3},{"t":45.3,"tau":-6.5,"d":1.5},{"t":45.45,"tau":-6.3,"d":1.9},{"t":45.6,"tau":-5.9,"d":2.3},
      {"t":45.75,"tau":-6.2,"d":2.0},{"t":45.9,"tau":-5.6,"d":2.6},{"t":46.05,"tau":-5.3,"d":2.85},{"t":46.2,"tau":-5.6,"d":2.5},{"t":46.35,"tau":-5.8,"d":2.3},
      {"t":46.5,"tau":-6.1,"d":2.1},{"t":46.65,"tau":-6.6,"d":1.7},{"t":46.8,"tau":-6.3,"d":1.9},{"t":46.95,"tau":-6.8,"d":1.5},{"t":47.1,"tau":-6.4,"d":1.8},
      {"t":47.25,"tau":-5.8,"d":2.3},{"t":47.4,"tau":-5.5,"d":2.7},{"t":47.55,"tau":-5.9,"d":2.3},{"t":47.7,"tau":-5.2,"d":2.9},{"t":47.85,"tau":-5.1,"d":3.0},
      {"t":48.0,"tau":-5.6,"d":2.5},{"t":48.15,"tau":-5.4,"d":2.7},{"t":48.3,"tau":-6.0,"d":2.1},{"t":48.45,"tau":-6.5,"d":1.7},{"t":48.6,"tau":-6.8,"d":1.5},
      {"t":48.75,"tau":-7.0,"d":1.4},{"t":48.9,"tau":-6.5,"d":1.8},{"t":49.05,"tau":-6.0,"d":2.3},{"t":49.2,"tau":-5.5,"d":2.7},{"t":49.35,"tau":-5.3,"d":2.95},
      {"t":49.5,"tau":-5.9,"d":2.3},{"t":49.65,"tau":-6.3,"d":1.9},{"t":49.8,"tau":-6.5,"d":1.7},{"t":49.95,"tau":-7.0,"d":1.5},{"t":50.1,"tau":-6.5,"d":1.8},
      {"t":50.25,"tau":-6.0,"d":2.3},{"t":50.4,"tau":-5.7,"d":2.5},{"t":50.55,"tau":-5.5,"d":2.8},{"t":50.7,"tau":-5.3,"d":2.95},{"t":50.85,"tau":-5.8,"d":2.4},
      {"t":51.0,"tau":-6.75,"d":1.7},{"t":51.15,"tau":-6.2,"d":2.0},{"t":51.3,"tau":-5.8,"d":2.4},{"t":51.45,"tau":-5.6,"d":2.6},{"t":51.6,"tau":-5.5,"d":2.85},
      {"t":51.75,"tau":-5.9,"d":2.4},{"t":51.9,"tau":-6.6,"d":1.9},{"t":52.05,"tau":-7.4,"d":1.4},{"t":52.2,"tau":-6.5,"d":1.8},{"t":52.35,"tau":-6.0,"d":2.3},
      {"t":52.5,"tau":-5.7,"d":2.6},{"t":52.65,"tau":-5.8,"d":2.85},{"t":52.8,"tau":-6.4,"d":2.1},{"t":52.95,"tau":-7.2,"d":1.6},{"t":53.1,"tau":-6.5,"d":1.9},
      {"t":53.25,"tau":-5.9,"d":2.4},{"t":53.4,"tau":-5.6,"d":2.85},{"t":53.55,"tau":-6.0,"d":2.3},{"t":53.7,"tau":-6.8,"d":1.8},{"t":53.85,"tau":-7.2,"d":1.4},
      {"t":54.0,"tau":-6.7,"d":1.7},{"t":54.15,"tau":-6.3,"d":2.1},{"t":54.3,"tau":-6.05,"d":2.5},{"t":54.45,"tau":-6.2,"d":2.75},{"t":54.6,"tau":-6.6,"d":2.2},
      {"t":54.75,"tau":-7.0,"d":1.8},{"t":54.9,"tau":-7.4,"d":1.5},{"t":55.05,"tau":-6.9,"d":1.7},{"t":55.2,"tau":-6.4,"d":2.0},{"t":55.35,"tau":-6.0,"d":2.3},
      {"t":55.5,"tau":-5.8,"d":2.6},{"t":55.65,"tau":-5.6,"d":2.9},{"t":55.8,"tau":-6.2,"d":3.0},{"t":55.9,"tau":-7.1,"d":1.7}
    ],
    "c": [
      {"t":0,"tau":-3.3,"d":0.0},{"t":0.08,"tau":-3.8,"d":0.1},{"t":0.16,"tau":-4.55,"d":-0.95},{"t":0.25,"tau":-2.0,"d":1.5},{"t":0.3,"tau":-0.8,"d":2.9},
      {"t":0.35,"tau":-0.45,"d":2.5},{"t":0.44,"tau":-4.15,"d":-0.55},{"t":0.55,"tau":-1.65,"d":1.55},{"t":0.62,"tau":-2.5,"d":1.4},{"t":0.67,"tau":-5.05,"d":0.25},
      {"t":0.76,"tau":-5.5,"d":-1.85},{"t":0.85,"tau":-5.9,"d":-2.5},{"t":0.95,"tau":-6.65,"d":-2.95},{"t":1.1,"tau":-5.0,"d":-2.2},{"t":1.25,"tau":-6.8,"d":-2.8},
      {"t":1.4,"tau":-4.6,"d":-1.7},{"t":1.55,"tau":-7.0,"d":-2.9},{"t":1.7,"tau":-4.8,"d":-1.9},{"t":1.85,"tau":-6.5,"d":-2.6},{"t":2.0,"tau":-5.0,"d":-2.0},
      {"t":2.15,"tau":-6.9,"d":-2.8},{"t":2.3,"tau":-5.2,"d":-1.8},{"t":2.45,"tau":-6.6,"d":-2.7},{"t":2.6,"tau":-4.9,"d":-2.1},{"t":2.75,"tau":-7.0,"d":-2.9},
      {"t":2.9,"tau":-5.1,"d":-1.9},{"t":3.05,"tau":-6.8,"d":-2.6},{"t":3.2,"tau":-4.8,"d":-1.7},{"t":3.35,"tau":-6.9,"d":-2.8},{"t":3.5,"tau":-5.2,"d":-2.0},
      {"t":3.65,"tau":-6.5,"d":-2.7},{"t":3.8,"tau":-5.0,"d":-1.8},{"t":3.95,"tau":-7.1,"d":-2.9},{"t":4.1,"tau":-5.3,"d":-2.1},{"t":4.25,"tau":-6.7,"d":-2.6},
      {"t":4.4,"tau":-5.0,"d":-1.8},{"t":4.55,"tau":-7.2,"d":-2.8},{"t":4.7,"tau":-5.4,"d":-2.0},{"t":4.85,"tau":-6.9,"d":-2.7},{"t":5.0,"tau":-5.1,"d":-1.9},
      {"t":5.15,"tau":-7.3,"d":-2.9},{"t":5.3,"tau":-5.3,"d":-2.1},{"t":5.45,"tau":-6.8,"d":-2.6},{"t":5.6,"tau":-4.9,"d":-1.8},{"t":5.75,"tau":-7.2,"d":-2.8},
      {"t":5.9,"tau":-5.5,"d":-2.0},{"t":6.05,"tau":-7.0,"d":-2.7},{"t":6.2,"tau":-5.2,"d":-1.9},{"t":6.35,"tau":-7.3,"d":-2.9},{"t":6.5,"tau":-5.4,"d":-2.1},
      {"t":6.65,"tau":-6.9,"d":-2.6},{"t":6.8,"tau":-5.0,"d":-1.8},{"t":6.95,"tau":-7.5,"d":-2.8},{"t":7.1,"tau":-5.3,"d":-2.0},{"t":7.25,"tau":-7.4,"d":-2.7},
      {"t":7.4,"tau":-5.0,"d":-1.9},{"t":7.55,"tau":-7.8,"d":-2.9},{"t":7.7,"tau":-4.6,"d":-2.1},{"t":7.85,"tau":-8.2,"d":-2.6},{"t":7.95,"tau":-4.0,"d":-1.8},
      {"t":8.05,"tau":-3.7,"d":-2.7},{"t":8.15,"tau":-9.0,"d":-2.0},{"t":8.25,"tau":-9.6,"d":-2.8},{"t":8.35,"tau":-4.2,"d":-1.9},{"t":8.45,"tau":-8.9,"d":-2.6},
      {"t":8.55,"tau":-4.8,"d":-2.0},{"t":8.65,"tau":-9.0,"d":-2.8},{"t":8.75,"tau":-5.0,"d":-1.9},{"t":8.85,"tau":-8.5,"d":-2.7},{"t":8.95,"tau":-5.3,"d":-2.0},
      {"t":9.05,"tau":-8.2,"d":-2.8},{"t":9.15,"tau":-5.5,"d":-2.1},{"t":9.3,"tau":-7.8,"d":-2.6},{"t":9.45,"tau":-5.6,"d":-1.9},{"t":9.6,"tau":-7.5,"d":-2.7},
      {"t":9.75,"tau":-5.8,"d":-2.2},{"t":9.9,"tau":-7.2,"d":-2.6},{"t":10.0,"tau":-5.65,"d":-1.55},{"t":10.15,"tau":-6.2,"d":-1.8},{"t":10.3,"tau":-6.35,"d":-1.85},
      {"t":10.5,"tau":-6.5,"d":-2.0},{"t":10.7,"tau":-6.65,"d":-2.15},{"t":10.85,"tau":-6.0,"d":-1.8},{"t":10.95,"tau":-5.35,"d":-1.45},{"t":11.05,"tau":-6.5,"d":-1.2},
      {"t":11.15,"tau":-7.55,"d":-2.0},{"t":11.25,"tau":-6.5,"d":-2.65},{"t":11.35,"tau":-5.85,"d":-1.8},{"t":11.5,"tau":-5.2,"d":-1.0},{"t":11.6,"tau":-5.0,"d":-0.65},
      {"t":11.7,"tau":-6.5,"d":-2.0},{"t":11.75,"tau":-7.25,"d":-2.75},{"t":11.85,"tau":-6.2,"d":-2.3},{"t":11.95,"tau":-5.25,"d":-1.85},{"t":12.05,"tau":-3.5,"d":0.8},
      {"t":12.15,"tau":-2.65,"d":1.9},{"t":12.3,"tau":-2.3,"d":2.05},{"t":12.45,"tau":-3.6,"d":1.5},{"t":12.6,"tau":-1.4,"d":2.4},{"t":12.75,"tau":-3.3,"d":1.3},
      {"t":12.9,"tau":-1.8,"d":2.2},{"t":13.05,"tau":-3.8,"d":1.1},{"t":13.2,"tau":-1.5,"d":2.6},{"t":13.35,"tau":-3.2,"d":1.5},{"t":13.5,"tau":-1.2,"d":2.8},
      {"t":13.65,"tau":-3.0,"d":1.4},{"t":13.8,"tau":-2.0,"d":2.1},{"t":13.95,"tau":-3.7,"d":1.0},{"t":14.1,"tau":-1.6,"d":2.5},{"t":14.25,"tau":-3.1,"d":1.6},
      {"t":14.4,"tau":-1.0,"d":2.9},{"t":14.55,"tau":-2.8,"d":1.7},{"t":14.7,"tau":-2.2,"d":2.2},{"t":14.85,"tau":-3.9,"d":0.9},{"t":15.0,"tau":-1.8,"d":2.3},
      {"t":15.15,"tau":-3.0,"d":1.5},{"t":15.3,"tau":-1.4,"d":2.7},{"t":15.45,"tau":-3.4,"d":1.4},{"t":15.6,"tau":-2.1,"d":2.0},{"t":15.75,"tau":-3.6,"d":1.2},
      {"t":15.9,"tau":-1.5,"d":2.5},{"t":16.05,"tau":-3.0,"d":1.6},{"t":16.2,"tau":-1.7,"d":2.4},{"t":16.35,"tau":-3.5,"d":1.3},{"t":16.5,"tau":-2.0,"d":2.2},
      {"t":16.65,"tau":-3.2,"d":1.4},{"t":16.8,"tau":-1.3,"d":2.6},{"t":16.95,"tau":-2.9,"d":1.6},{"t":17.1,"tau":-1.9,"d":2.3},{"t":17.25,"tau":-3.7,"d":1.1},
      {"t":17.4,"tau":-1.6,"d":2.5},{"t":17.55,"tau":-3.1,"d":1.5},{"t":17.7,"tau":-2.0,"d":2.1},{"t":17.85,"tau":-3.3,"d":1.3},{"t":18.0,"tau":-1.5,"d":2.7},
      {"t":18.15,"tau":-2.9,"d":1.6},{"t":18.3,"tau":-1.8,"d":2.4},{"t":18.45,"tau":-3.5,"d":1.2},{"t":18.6,"tau":-1.1,"d":2.9},{"t":18.75,"tau":-2.7,"d":1.7},
      {"t":18.9,"tau":-1.9,"d":2.3},{"t":19.05,"tau":-3.4,"d":1.3},{"t":19.2,"tau":-1.7,"d":2.5},{"t":19.35,"tau":-3.0,"d":1.5},{"t":19.5,"tau":-2.2,"d":2.0},
      {"t":19.65,"tau":-3.9,"d":0.85},{"t":19.8,"tau":-1.6,"d":2.4},{"t":19.95,"tau":-2.9,"d":1.6},{"t":20.1,"tau":-1.9,"d":2.2},{"t":20.25,"tau":-3.5,"d":1.2},
      {"t":20.4,"tau":-1.4,"d":2.6},{"t":20.55,"tau":-3.1,"d":1.5},{"t":20.7,"tau":-2.0,"d":2.1},{"t":20.85,"tau":-3.6,"d":1.1},{"t":21.0,"tau":-1.3,"d":2.7},
      {"t":21.15,"tau":-2.8,"d":1.6},{"t":21.3,"tau":-1.8,"d":2.3},{"t":21.45,"tau":-3.3,"d":1.4},{"t":21.6,"tau":-1.6,"d":2.5},{"t":21.75,"tau":-3.0,"d":1.5},
      {"t":21.9,"tau":-2.1,"d":2.0},{"t":22.05,"tau":-3.7,"d":1.0},{"t":22.2,"tau":-1.5,"d":2.5},{"t":22.35,"tau":-2.9,"d":1.6},{"t":22.5,"tau":-1.9,"d":2.2},
      {"t":22.65,"tau":-3.2,"d":1.3},{"t":22.8,"tau":-1.7,"d":2.3},{"t":22.95,"tau":-2.8,"d":1.8},{"t":23.1,"tau":-2.0,"d":2.0},{"t":23.25,"tau":-2.6,"d":1.9},
      {"t":23.4,"tau":-1.8,"d":2.3},{"t":23.55,"tau":-1.3,"d":2.8},{"t":23.7,"tau":-1.6,"d":2.4},{"t":23.85,"tau":-2.4,"d":1.9},{"t":24.0,"tau":-3.2,"d":1.1},
      {"t":24.1,"tau":-3.75,"d":0.65},{"t":24.25,"tau":-2.8,"d":1.4},{"t":24.4,"tau":-2.2,"d":1.9},{"t":24.5,"tau":-2.05,"d":2.0},{"t":24.65,"tau":-2.9,"d":1.4},
      {"t":24.8,"tau":-4.25,"d":0.65},{"t":24.9,"tau":-5.6,"d":-1.0},{"t":25.0,"tau":-6.5,"d":-2.25},{"t":25.1,"tau":-5.5,"d":-1.2},{"t":25.2,"tau":-4.2,"d":0.25},
      {"t":25.35,"tau":-3.65,"d":0.45},{"t":25.5,"tau":-3.85,"d":0.3},{"t":25.65,"tau":-5.5,"d":-0.85},{"t":25.8,"tau":-7.35,"d":-2.75},{"t":25.9,"tau":-5.0,"d":-0.5},
      {"t":26.0,"tau":-2.25,"d":1.7},{"t":26.1,"tau":-4.0,"d":0.2},{"t":26.2,"tau":-6.8,"d":-2.4},{"t":26.3,"tau":-3.0,"d":1.0},{"t":26.4,"tau":-1.8,"d":2.4},
      {"t":26.5,"tau":-5.5,"d":-1.0},{"t":26.6,"tau":-7.0,"d":-2.45},{"t":26.7,"tau":-3.5,"d":0.8},{"t":26.8,"tau":-1.6,"d":2.6},{"t":26.9,"tau":-5.0,"d":-0.5},
      {"t":27.0,"tau":-6.8,"d":-2.3},{"t":27.1,"tau":-3.0,"d":1.2},{"t":27.2,"tau":-1.5,"d":2.5},{"t":27.3,"tau":-5.8,"d":-1.2},{"t":27.4,"tau":-6.5,"d":-2.4},
      {"t":27.5,"tau":-2.8,"d":1.4},{"t":27.6,"tau":-1.7,"d":2.6},{"t":27.7,"tau":-5.2,"d":-0.8},{"t":27.8,"tau":-6.9,"d":-2.4},{"t":27.9,"tau":-3.2,"d":0.9},
      {"t":28.0,"tau":-2.0,"d":2.2},{"t":28.1,"tau":-6.65,"d":-2.35},{"t":28.25,"tau":-4.0,"d":0.5},{"t":28.4,"tau":-1.65,"d":2.45},{"t":28.5,"tau":-5.25,"d":-0.95},
      {"t":28.65,"tau":-3.0,"d":1.5},{"t":28.8,"tau":-0.65,"d":3.4},{"t":28.95,"tau":-2.5,"d":1.5},{"t":29.05,"tau":-3.85,"d":0.35},{"t":29.2,"tau":-2.2,"d":1.6},
      {"t":29.3,"tau":-1.45,"d":2.35},{"t":29.45,"tau":-2.8,"d":1.8},{"t":29.6,"tau":-1.5,"d":2.6},{"t":29.75,"tau":-3.0,"d":1.7},{"t":29.9,"tau":-1.8,"d":2.5},
      {"t":30.05,"tau":-2.9,"d":1.8},{"t":30.2,"tau":-1.2,"d":2.7},{"t":30.35,"tau":-2.6,"d":1.9},{"t":30.5,"tau":-1.6,"d":2.5},{"t":30.65,"tau":-3.1,"d":1.7},
      {"t":30.8,"tau":-1.4,"d":2.6},{"t":30.95,"tau":-2.7,"d":1.9},{"t":31.1,"tau":-1.0,"d":2.8},{"t":31.25,"tau":-2.5,"d":2.0},{"t":31.4,"tau":-1.5,"d":2.5},
      {"t":31.55,"tau":-2.9,"d":1.8},{"t":31.7,"tau":-1.3,"d":2.6},{"t":31.85,"tau":-2.4,"d":1.9},{"t":32.0,"tau":-0.9,"d":2.8},{"t":32.15,"tau":-2.6,"d":2.0},
      {"t":32.3,"tau":-1.4,"d":2.5},{"t":32.45,"tau":-2.3,"d":1.9},{"t":32.6,"tau":-0.8,"d":2.7},{"t":32.75,"tau":-2.4,"d":2.0},{"t":32.9,"tau":-1.2,"d":2.6},
      {"t":33.05,"tau":-2.2,"d":1.9},{"t":33.2,"tau":-0.7,"d":2.7},{"t":33.35,"tau":-2.5,"d":1.9},{"t":33.5,"tau":-1.1,"d":2.5},{"t":33.65,"tau":-2.0,"d":1.8},
      {"t":33.8,"tau":-0.6,"d":2.7},{"t":33.95,"tau":-2.2,"d":2.0},{"t":34.1,"tau":-1.0,"d":2.6},{"t":34.25,"tau":-1.9,"d":1.9},{"t":34.4,"tau":-0.5,"d":2.8},
      {"t":34.55,"tau":-2.1,"d":2.0},{"t":34.7,"tau":-0.9,"d":2.5},{"t":34.85,"tau":-1.8,"d":1.9},{"t":35.0,"tau":-0.4,"d":2.7},{"t":35.15,"tau":-2.0,"d":2.0},
      {"t":35.3,"tau":-0.8,"d":2.6},{"t":35.45,"tau":-1.7,"d":1.8},{"t":35.6,"tau":-0.3,"d":2.7},{"t":35.75,"tau":-1.9,"d":2.0},{"t":35.9,"tau":-0.8,"d":2.5},
      {"t":36.05,"tau":-1.6,"d":1.9},{"t":36.2,"tau":-0.3,"d":2.7},{"t":36.35,"tau":-1.7,"d":1.9},{"t":36.5,"tau":-0.7,"d":2.5},{"t":36.65,"tau":-1.5,"d":1.9},
      {"t":36.8,"tau":-0.4,"d":2.6},{"t":36.95,"tau":-1.6,"d":2.0},{"t":37.1,"tau":-0.6,"d":2.4},{"t":37.25,"tau":-1.3,"d":1.8},{"t":37.4,"tau":-0.5,"d":2.5},
      {"t":37.55,"tau":-0.9,"d":2.3},{"t":37.7,"tau":-0.5,"d":2.2},{"t":37.85,"tau":-0.75,"d":2.35},{"t":38.0,"tau":-1.1,"d":2.0},{"t":38.2,"tau":-1.45,"d":1.55},
      {"t":38.35,"tau":-1.9,"d":1.3},{"t":38.5,"tau":-2.25,"d":1.05},{"t":38.65,"tau":-1.6,"d":1.4},{"t":38.8,"tau":-1.15,"d":1.75},{"t":38.95,"tau":-2.8,"d":1.0},
      {"t":39.05,"tau":-4.15,"d":0.45},{"t":39.2,"tau":-2.5,"d":-0.95},{"t":39.35,"tau":-0.75,"d":1.65},{"t":39.5,"tau":-3.5,"d":0.0},{"t":39.6,"tau":-5.15,"d":-1.85},
      {"t":39.7,"tau":-3.0,"d":0.5},{"t":39.8,"tau":-0.75,"d":2.15},{"t":39.95,"tau":-2.0,"d":1.4},{"t":40.1,"tau":-3.15,"d":0.65},{"t":40.3,"tau":-2.0,"d":0.25},
      {"t":40.5,"tau":-0.85,"d":2.15},{"t":40.6,"tau":-2.0,"d":1.0},{"t":40.7,"tau":-3.55,"d":-0.15},{"t":40.9,"tau":-2.4,"d":1.2},{"t":41.1,"tau":-1.25,"d":2.35},
      {"t":41.2,"tau":-2.8,"d":0.8},{"t":41.35,"tau":-4.35,"d":-0.95},{"t":41.5,"tau":-1.5,"d":1.5},{"t":41.6,"tau":-0.05,"d":2.8},{"t":41.7,"tau":-1.0,"d":2.1},
      {"t":41.8,"tau":-1.65,"d":1.45},{"t":41.9,"tau":-0.8,"d":2.2},{"t":42.0,"tau":-0.15,"d":2.75},{"t":42.15,"tau":-1.2,"d":1.8},{"t":42.3,"tau":-1.85,"d":1.4},
      {"t":42.45,"tau":-1.5,"d":1.7},{"t":42.6,"tau":-1.65,"d":1.55},{"t":42.75,"tau":-3.0,"d":0.3},{"t":42.85,"tau":-3.95,"d":-0.75},{"t":43.0,"tau":-2.8,"d":0.4},
      {"t":43.15,"tau":-1.85,"d":1.15},{"t":43.3,"tau":-0.5,"d":2.5},{"t":43.4,"tau":0.2,"d":3.1},{"t":43.5,"tau":-0.6,"d":2.6},{"t":43.6,"tau":-1.15,"d":1.95},
      {"t":43.7,"tau":-2.2,"d":0.9},{"t":43.8,"tau":-3.25,"d":-0.05},{"t":43.9,"tau":-4.3,"d":-1.2},{"t":44.0,"tau":-5.25,"d":-2.25},{"t":44.15,"tau":-4.7,"d":-2.0},
      {"t":44.3,"tau":-5.3,"d":-2.3},{"t":44.45,"tau":-4.8,"d":-1.9},{"t":44.6,"tau":-5.5,"d":-2.4},{"t":44.75,"tau":-5.2,"d":-2.2},{"t":44.9,"tau":-5.9,"d":-2.6},
      {"t":45.05,"tau":-4.9,"d":-1.8},{"t":45.2,"tau":-4.3,"d":-1.4},{"t":45.35,"tau":-4.8,"d":-1.7},{"t":45.5,"tau":-5.5,"d":-2.2},{"t":45.65,"tau":-5.8,"d":-2.5},
      {"t":45.8,"tau":-5.2,"d":-2.1},{"t":45.95,"tau":-4.5,"d":-1.6},{"t":46.1,"tau":-4.1,"d":-1.2},{"t":46.25,"tau":-4.7,"d":-1.7},{"t":46.4,"tau":-5.5,"d":-2.4},
      {"t":46.55,"tau":-6.0,"d":-2.6},{"t":46.7,"tau":-5.3,"d":-2.2},{"t":46.85,"tau":-4.6,"d":-1.8},{"t":47.0,"tau":-5.1,"d":-2.0},{"t":47.15,"tau":-4.5,"d":-1.6},
      {"t":47.3,"tau":-5.6,"d":-2.3},{"t":47.45,"tau":-4.4,"d":-1.5},{"t":47.6,"tau":-5.0,"d":-1.9},{"t":47.75,"tau":-4.0,"d":-1.1},{"t":47.9,"tau":-5.4,"d":-2.1},
      {"t":48.05,"tau":-4.2,"d":-1.3},{"t":48.2,"tau":-5.6,"d":-2.4},{"t":48.35,"tau":-4.1,"d":-1.1},{"t":48.5,"tau":-5.8,"d":-2.5},{"t":48.65,"tau":-4.8,"d":-1.8},
      {"t":48.8,"tau":-5.2,"d":-2.0},{"t":48.95,"tau":-6.0,"d":-2.6},{"t":49.1,"tau":-4.5,"d":-1.6},{"t":49.25,"tau":-5.5,"d":-2.2},{"t":49.4,"tau":-4.3,"d":-1.3},
      {"t":49.55,"tau":-5.7,"d":-2.4},{"t":49.7,"tau":-4.6,"d":-1.7},{"t":49.85,"tau":-5.9,"d":-2.5},{"t":50.0,"tau":-4.4,"d":-1.5},{"t":50.15,"tau":-5.3,"d":-2.1},
      {"t":50.3,"tau":-4.1,"d":-1.2},{"t":50.45,"tau":-5.8,"d":-2.5},{"t":50.6,"tau":-4.6,"d":-1.7},{"t":50.75,"tau":-5.5,"d":-2.3},{"t":50.9,"tau":-4.2,"d":-1.3},
      {"t":51.05,"tau":-6.0,"d":-2.6},{"t":51.2,"tau":-4.5,"d":-1.6},{"t":51.35,"tau":-5.4,"d":-2.2},{"t":51.5,"tau":-4.3,"d":-1.4},{"t":51.65,"tau":-5.8,"d":-2.5},
      {"t":51.8,"tau":-4.5,"d":-1.6},{"t":51.95,"tau":-5.6,"d":-2.3},{"t":52.1,"tau":-4.2,"d":-1.3},{"t":52.25,"tau":-5.9,"d":-2.5},{"t":52.4,"tau":-4.6,"d":-1.8},
      {"t":52.55,"tau":-5.3,"d":-2.2},{"t":52.7,"tau":-4.0,"d":-1.05},{"t":52.85,"tau":-5.7,"d":-2.4},{"t":53.0,"tau":-4.7,"d":-1.8},{"t":53.15,"tau":-6.0,"d":-2.6},
      {"t":53.3,"tau":-4.4,"d":-1.5},{"t":53.45,"tau":-5.5,"d":-2.2},{"t":53.6,"tau":-4.6,"d":-1.7},{"t":53.75,"tau":-5.8,"d":-2.5},{"t":53.9,"tau":-4.8,"d":-1.8},
      {"t":54.05,"tau":-5.6,"d":-2.3},{"t":54.2,"tau":-4.9,"d":-2.0},{"t":54.35,"tau":-5.9,"d":-2.6},{"t":54.5,"tau":-5.0,"d":-2.0},{"t":54.65,"tau":-5.7,"d":-2.4},
      {"t":54.8,"tau":-5.3,"d":-2.2},{"t":54.95,"tau":-6.05,"d":-2.65},{"t":55.1,"tau":-5.2,"d":-2.1},{"t":55.25,"tau":-5.0,"d":-1.9},{"t":55.4,"tau":-4.6,"d":-1.85},
      {"t":55.55,"tau":-4.25,"d":-1.2},{"t":55.65,"tau":-4.4,"d":-0.95},{"t":55.8,"tau":-4.75,"d":-1.3}
    ]
  },
  "vconcat": [
    {
      "width": 2654, "height": 425,
      "title": {"text": "(a)"},
      "data": {"name": "a"},
      "transform": [{"fold": ["tau", "d"], "as": ["series", "value"]}],
      "layer": [
        {
          "mark": {"type": "line"},
          "encoding": {
            "x": {"field": "t", "type": "quantitative", "scale": {"domain": [0, 56], "nice": false, "zero": false},
                  "axis": {"values": [5,10,15,20,25,30,35,40,45,50,55], "title": "Time(s)"}},
            "y": {"field": "value", "type": "quantitative", "scale": {"domain": [-2.02, 2.14], "nice": false, "zero": false},
                  "axis": {"values": [-2, 0, 2], "title": "τ (N·m)"}},
            "color": {"field": "series", "type": "nominal",
                      "scale": {"domain": ["tau", "d"], "range": ["#0072BD", "#D95319"]},
                      "legend": {"legendX": 159, "legendY": 42, "labelExpr": "datum.label == 'tau' ? 'τ₁' : 'd₁'"}}
          }
        },
        {
          "mark": {"type": "line", "opacity": 0},
          "encoding": {
            "x": {"field": "t", "type": "quantitative", "axis": {"orient": "top", "values": [5,10,15,20,25,30,35,40,45,50,55], "labels": false, "title": null}},
            "y": {"field": "value", "type": "quantitative", "axis": {"orient": "right", "values": [-2, 0, 2], "labels": false, "title": null}},
            "detail": {"field": "series"}
          }
        }
      ],
      "resolve": {"axis": {"x": "independent", "y": "independent"}}
    },
    {
      "width": 2654, "height": 428,
      "title": {"text": "(b)"},
      "data": {"name": "b"},
      "transform": [{"fold": ["tau", "d"], "as": ["series", "value"]}],
      "layer": [
        {
          "mark": {"type": "line"},
          "encoding": {
            "x": {"field": "t", "type": "quantitative", "scale": {"domain": [0, 56], "nice": false, "zero": false},
                  "axis": {"values": [5,10,15,20,25,30,35,40,45,50,55], "title": "Time(s)"}},
            "y": {"field": "value", "type": "quantitative", "scale": {"domain": [-15.52, 3.09], "nice": false, "zero": false},
                  "axis": {"values": [-15, -10, -5, 0], "title": "τ (N·m)"}},
            "color": {"field": "series", "type": "nominal",
                      "scale": {"domain": ["tau", "d"], "range": ["#0072BD", "#D95319"]},
                      "legend": {"legendX": 1906, "legendY": 313, "labelExpr": "datum.label == 'tau' ? 'τ₂' : 'd₂'"}}
          }
        },
        {
          "mark": {"type": "line", "opacity": 0},
          "encoding": {
            "x": {"field": "t", "type": "quantitative", "axis": {"orient": "top", "values": [5,10,15,20,25,30,35,40,45,50,55], "labels": false, "title": null}},
            "y": {"field": "value", "type": "quantitative", "axis": {"orient": "right", "values": [-15, -10, -5, 0], "labels": false, "title": null}},
            "detail": {"field": "series"}
          }
        }
      ],
      "resolve": {"axis": {"x": "independent", "y": "independent"}}
    },
    {
      "width": 2654, "height": 429,
      "title": {"text": "(c)"},
      "data": {"name": "c"},
      "transform": [{"fold": ["tau", "d"], "as": ["series", "value"]}],
      "layer": [
        {
          "mark": {"type": "line"},
          "encoding": {
            "x": {"field": "t", "type": "quantitative", "scale": {"domain": [0, 56], "nice": false, "zero": false},
                  "axis": {"values": [5,10,15,20,25,30,35,40,45,50,55], "title": "Time(s)"}},
            "y": {"field": "value", "type": "quantitative", "scale": {"domain": [-9.5, 3.38], "nice": false, "zero": false},
                  "axis": {"values": [-8, -6, -4, -2, 0, 2], "title": "τ(N·m)"}},
            "color": {"field": "series", "type": "nominal",
                      "scale": {"domain": ["tau", "d"], "range": ["#0072BD", "#D95319"]},
                      "legend": {"legendX": 1336, "legendY": 305, "labelExpr": "datum.label == 'tau' ? 'τ₃' : 'd₃'"}}
          }
        },
        {
          "mark": {"type": "line", "opacity": 0},
          "encoding": {
            "x": {"field": "t", "type": "quantitative", "axis": {"orient": "top", "values": [5,10,15,20,25,30,35,40,45,50,55], "labels": false, "title": null}},
            "y": {"field": "value", "type": "quantitative", "axis": {"orient": "right", "values": [-8, -6, -4, -2, 0, 2], "labels": false, "title": null}},
            "detail": {"field": "series"}
          }
        }
      ],
      "resolve": {"axis": {"x": "independent", "y": "independent"}}
    }
  ]
}
